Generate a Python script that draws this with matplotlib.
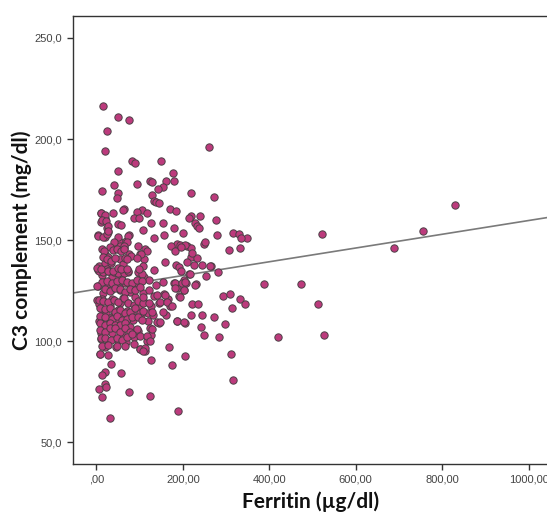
import numpy as np
import matplotlib
matplotlib.use("Agg")
import matplotlib.pyplot as plt

# values: ferritin (ug/dl) vs C3 complement (mg/dl)
ferritin_outer = [
    15, 49, 75, 25, 21, 260, 83, 89, 150, 49, 178, 93, 123, 129, 162, 179, 154, 143, 41, 13,
    50, 48, 220, 128, 273, 134, 139, 145, 829, 64, 62, 105, 171, 184, 11, 39, 93, 117, 219, 239,
    214, 19, 88, 98, 276, 11, 127, 154, 49, 56, 228, 232, 237, 179, 107, 24, 3, 19, 27, 75,
    156, 201, 279, 317, 331, 348, 335, 523, 755, 689, 52, 68, 134, 248, 251, 186, 194, 172, 209, 220,
    307, 332, 96, 14, 38, 54, 64, 112, 102, 118, 75, 80, 19, 28, 55, 111, 159, 218, 233, 210,
    227, 244, 184, 192, 265, 107, 61, 7, 19, 34, 4, 25, 133, 281, 196, 214, 254, 12, 37, 57,
    74, 99, 110, 122, 180, 202, 207, 231, 387, 473, 3, 26, 47, 66, 78, 95, 139, 155, 187, 202,
    16, 34, 54, 77, 108, 122, 157, 192, 294, 310, 332, 2, 13, 36, 61, 90, 133, 165, 145, 73,
    110, 54, 7, 343, 513, 222, 235, 171, 31, 98, 126, 314, 12, 49, 70, 82, 120, 60, 23, 41,
    104, 161, 130, 218, 244, 273, 14, 31, 66, 85, 120, 51, 7, 186, 146, 206, 27, 71, 39, 298,
    242, 124, 22, 54, 78, 96, 10, 37, 60, 127, 248, 527, 421, 284, 87, 11, 28, 49, 68, 117,
    19, 46, 168, 100, 111, 9, 206, 311, 126, 35, 176, 19, 57, 13, 20, 7, 22, 13, 75, 123,
    317, 32, 188,
]
c3_outer = [
    216.2, 211.0, 209.2, 204.1, 194.1, 196.0, 189.1, 188.3, 189.1, 184.2, 183.2, 177.8, 179.2, 178.5, 179.2, 179.2, 176.2, 175.1, 177.1, 174.1,
    173.3, 171.0, 173.3, 172.1, 171.3, 169.3, 168.8, 168.2, 167.2, 165.6, 164.7, 165.0, 165.2, 164.2, 163.2, 163.2, 163.9, 163.4, 162.0, 162.0,
    161.0, 160.9, 161.1, 161.1, 160.1, 158.9, 158.3, 158.3, 158.1, 157.3, 158.3, 157.1, 155.9, 156.1, 155.1, 155.9, 152.3, 151.5, 154.0, 152.3,
    152.3, 153.3, 152.3, 153.3, 152.8, 151.2, 151.2, 153.1, 154.3, 146.0, 149.7, 149.8, 151.2, 148.2, 149.0, 148.3, 147.7, 147.2, 147.2, 146.2,
    145.0, 146.0, 147.2, 145.4, 146.0, 146.9, 146.0, 145.5, 143.1, 144.6, 143.1, 142.1, 143.1, 141.6, 140.6, 140.6, 139.3, 141.9, 141.3, 139.1,
    137.5, 137.5, 137.5, 136.5, 137.3, 137.0, 138.1, 137.0, 138.6, 138.6, 135.3, 135.6, 135.1, 134.2, 134.5, 133.3, 132.2, 132.7, 131.7, 132.0,
    134.0, 133.7, 132.0, 130.4, 129.0, 130.4, 129.0, 128.1, 128.1, 128.1, 127.1, 128.4, 128.2, 128.9, 127.9, 128.7, 127.7, 129.5, 126.1, 125.1,
    124.1, 125.4, 125.1, 124.4, 124.1, 125.1, 123.3, 122.3, 122.3, 123.3, 121.1, 120.3, 121.0, 120.8, 121.3, 121.9, 122.4, 121.0, 119.1, 119.1,
    119.3, 118.8, 118.3, 118.3, 118.2, 118.3, 118.3, 117.3, 117.2, 117.2, 117.5, 116.2, 115.8, 115.3, 115.2, 114.2, 114.2, 114.2, 113.9, 113.0,
    113.0, 113.2, 113.0, 113.2, 113.2, 112.2, 111.4, 111.7, 110.6, 110.6, 110.2, 110.2, 110.1, 110.1, 109.2, 109.2, 108.6, 107.6, 108.1, 108.3,
    106.9, 106.4, 106.1, 105.6, 105.6, 105.1, 104.3, 104.0, 103.6, 103.1, 103.1, 103.1, 102.1, 102.0, 102.0, 101.2, 100.3, 100.8, 99.8, 100.3,
    97.4, 97.2, 97.4, 96.2, 95.7, 93.6, 92.7, 93.7, 90.8, 88.6, 88.4, 84.7, 84.3, 83.3, 79.0, 76.4, 77.2, 72.6, 74.8, 72.8,
    81.0, 62.2, 65.3,
]

# crowded core near the y axis
ferritin_core = [
    5, 16, 28, 40, 51, 63, 74, 97, 105, 12, 24, 36, 47, 59, 70, 82, 94, 105, 20, 32,
    43, 55, 66, 78, 90, 101, 1, 5, 16, 28, 40, 51, 63, 74, 86, 97, 109, 8, 20, 32,
    43, 55, 67, 78, 90, 101, 8, 20, 36, 47, 59, 70, 82, 97, 105, 8, 20, 32, 43, 55,
    66, 78, 8, 20, 32, 43, 55, 66, 78, 93, 10, 21, 34, 47, 59, 70, 82, 101, 12, 28,
    47, 66, 86, 101, 113, 8, 28, 11, 20, 12, 22, 28, 3, 15, 24, 28, 51, 40, 74, 70,
    63, 32, 39, 17, 48, 103, 15, 25, 35, 44, 56, 65, 67, 72, 95, 1, 11, 27, 39, 50,
    58, 72, 98, 109, 140, 121, 148, 159, 163, 175, 109, 128, 155, 140, 148, 186, 202, 128, 117, 124,
    113, 109, 183, 198, 206, 217, 229, 183, 202, 194, 183, 222, 206, 195, 264,
]
c3_core = [
    134.5, 134.0, 134.8, 134.3, 133.8, 133.6, 134.5, 134.2, 133.5, 129.5, 130.0, 129.0, 129.6, 130.2, 129.2, 129.0, 130.1, 130.0, 125.8, 125.0,
    126.2, 125.6, 124.4, 126.0, 125.5, 126.6, 127.4, 120.2, 119.8, 119.6, 120.4, 119.3, 121.4, 118.9, 118.1, 119.9, 119.0, 116.3, 115.8, 116.3,
    114.6, 115.4, 113.8, 114.6, 116.3, 114.2, 112.7, 111.9, 111.1, 112.7, 110.3, 111.1, 111.9, 111.9, 110.3, 108.8, 108.0, 108.8, 108.0, 108.0,
    108.8, 107.2, 105.6, 104.8, 106.4, 106.4, 104.8, 106.4, 104.8, 106.0, 101.4, 101.4, 100.6, 101.4, 100.6, 102.2, 103.5, 102.6, 97.8, 98.1,
    97.8, 97.8, 98.6, 96.2, 95.4, 93.5, 93.1, 163.4, 162.5, 160.0, 159.7, 157.0, 152.0, 151.5, 153.0, 154.6, 151.5, 149.0, 152.0, 149.0,
    147.0, 146.5, 145.0, 144.6, 145.8, 143.0, 141.8, 140.7, 139.7, 141.0, 144.8, 145.7, 141.0, 140.6, 141.0, 136.3, 135.5, 134.7, 134.7, 136.0,
    135.5, 135.5, 135.5, 122.1, 122.9, 118.8, 119.6, 122.9, 119.6, 117.2, 115.1, 114.3, 114.3, 109.3, 109.3, 110.1, 109.3, 106.0, 102.7, 100.2,
    96.9, 95.3, 128.7, 128.7, 129.5, 133.3, 127.9, 126.3, 125.4, 122.1, 144.6, 143.8, 147.5, 146.5, 137.0,
]

# fit line as drawn in the source chart
fit_intercept = 125.7
fit_slope = 0.034

x_ticks = [0, 200, 400, 600, 800, 1000]
x_ticklabels = [",00", "200,00", "400,00", "600,00", "800,00", "1000,00"]
y_ticks = [50, 100, 150, 200, 250]
y_ticklabels = ["50,0", "100,0", "150,0", "200,0", "250,0"]

x = np.array(ferritin_outer + ferritin_core, dtype=float)
y = np.array(c3_outer + c3_core, dtype=float)

fig = plt.figure(figsize=(5.47, 5.13), dpi=100)
ax = fig.add_axes([0.1327, 0.0955, 0.8693, 0.874])

ax.scatter(x, y, s=28, c="#BC3A7C", edgecolors="#4d3f46", linewidths=0.7, zorder=3)

xmin, xmax = -55, 1045
xl = np.array([xmin, xmax])
ax.plot(xl, fit_intercept + fit_slope * xl, color="#7a7a7a", lw=1.2, zorder=2)

ax.set_xlim(xmin, xmax)
ax.set_ylim(39.3, 261)
ax.set_xticks(x_ticks)
ax.set_xticklabels(x_ticklabels)
ax.set_yticks(y_ticks)
ax.set_yticklabels(y_ticklabels)
ax.tick_params(direction="out", length=4, width=1, color="#333333",
               labelsize=8, labelcolor="#444444")
for lbl in ax.get_xticklabels() + ax.get_yticklabels():
    lbl.set_family("Liberation Sans")

for side in ["left", "bottom", "top", "right"]:
    ax.spines[side].set_color("#333333")
    ax.spines[side].set_linewidth(1.0)

ax.set_xlabel("Ferritin (µg/dl)", family="Lato", fontweight="bold",
              fontsize=15, color="#111111", labelpad=5)
ax.set_ylabel("C3 complement (mg/dl)", family="Lato", fontweight="bold",
              fontsize=15, color="#111111", labelpad=2)

fig.savefig("out.png", dpi=100)
